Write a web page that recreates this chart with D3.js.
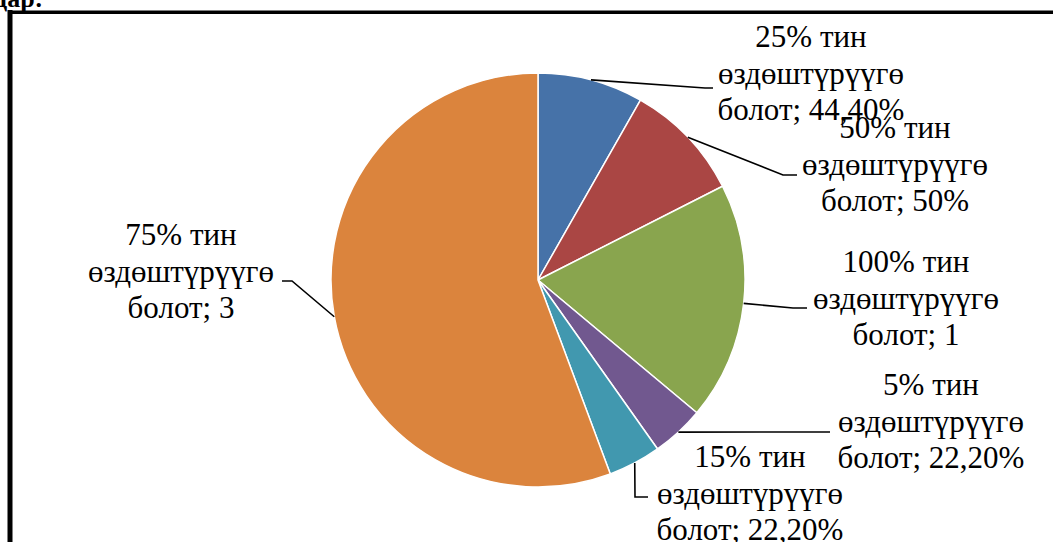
<!DOCTYPE html>
<html>
<head>
<meta charset="utf-8">
<script src="https://cdn.jsdelivr.net/npm/d3@7"></script>
<style>
  html, body { margin: 0; padding: 0; background: #ffffff; overflow: hidden; }
  svg { display: block; }
</style>
</head>
<body>
<svg id="chart" width="1053" height="542"></svg>
<script>
// ---- data ----
const categories = ["25% тин", "50% тин", "100% тин", "5% тин", "15% тин", "75% тин"];
const values = [0.444, 0.5, 1, 0.222, 0.222, 3];
const valueLabels = ["44,40%", "50%", "1", "22,20%", "22,20%", "3"];
const labelWord = "өздөштүрүүгө";
const labelWord2 = "болот";
const colors = ["#4672A8", "#AA4644", "#89A54E", "#71588F", "#4198AF", "#DB843D"];

// ---- layout (label placement, as in the reference) ----
const cx = 538, cy = 280, R = 207;
const labelLayout = [
  { tx: 811, ty: 47,  elbow: [705, 88],  end: [713, 88] },
  { tx: 895, ty: 138, elbow: [783, 175], end: [797, 175] },
  { tx: 906, ty: 272, elbow: [793, 308], end: [807, 308] },
  { tx: 931, ty: 395, elbow: [760, 432], end: [830, 432] },
  { tx: 750, ty: 467, elbow: [635, 497], end: [648, 497] },
  { tx: 181, ty: 245, elbow: [292, 281], end: [282, 281] }
];
const lineH = 36.5;

const svg = d3.select("#chart");

// heading fragment at the very top (cut off)
svg.append("text")
  .attr("x", -6).attr("y", 7)
  .attr("font-family", "'Liberation Serif', 'Times New Roman', serif")
  .attr("font-weight", "bold")
  .attr("font-size", 26)
  .attr("fill", "#000")
  .text("дар:");

// frame
svg.append("line").attr("x1", 10).attr("x2", 10).attr("y1", 10).attr("y2", 560)
  .attr("stroke", "#000").attr("stroke-width", 5);
svg.append("line").attr("x1", 8).attr("x2", 1070).attr("y1", 12.2).attr("y2", 12.2)
  .attr("stroke", "#000").attr("stroke-width", 3.6);

const pie = d3.pie().sort(null).value(d => d.v);
const arcs = pie(values.map((v, i) => ({ v, i })));
const arc = d3.arc().innerRadius(0).outerRadius(R);

const g = svg.append("g").attr("transform", `translate(${cx},${cy})`);
g.selectAll("path.slice")
  .data(arcs)
  .join("path")
  .attr("class", "slice")
  .attr("d", arc)
  .attr("fill", d => colors[d.data.i])
  .attr("stroke", "#ffffff")
  .attr("stroke-width", 1.5)
  .attr("stroke-linejoin", "round");

// leader lines
arcs.forEach((a, i) => {
  const mid = (a.startAngle + a.endAngle) / 2;
  const sx = cx + R * Math.sin(mid);
  const sy = cy - R * Math.cos(mid);
  const L = labelLayout[i];
  svg.append("polyline")
    .attr("points", [[sx, sy], L.elbow, L.end].map(p => p.join(",")).join(" "))
    .attr("fill", "none")
    .attr("stroke", "#000")
    .attr("stroke-width", 1.6);
});

// labels
arcs.forEach((a, i) => {
  const L = labelLayout[i];
  const t = svg.append("text")
    .attr("text-anchor", "middle")
    .attr("font-family", "'Liberation Serif', 'Times New Roman', serif")
    .attr("font-size", 31)
    .attr("fill", "#000");
  const lines = [categories[i], labelWord, labelWord2 + "; " + valueLabels[i]];
  lines.forEach((s, k) => {
    t.append("tspan").attr("x", L.tx).attr("y", L.ty + k * lineH).text(s);
  });
});
</script>
</body>
</html>
